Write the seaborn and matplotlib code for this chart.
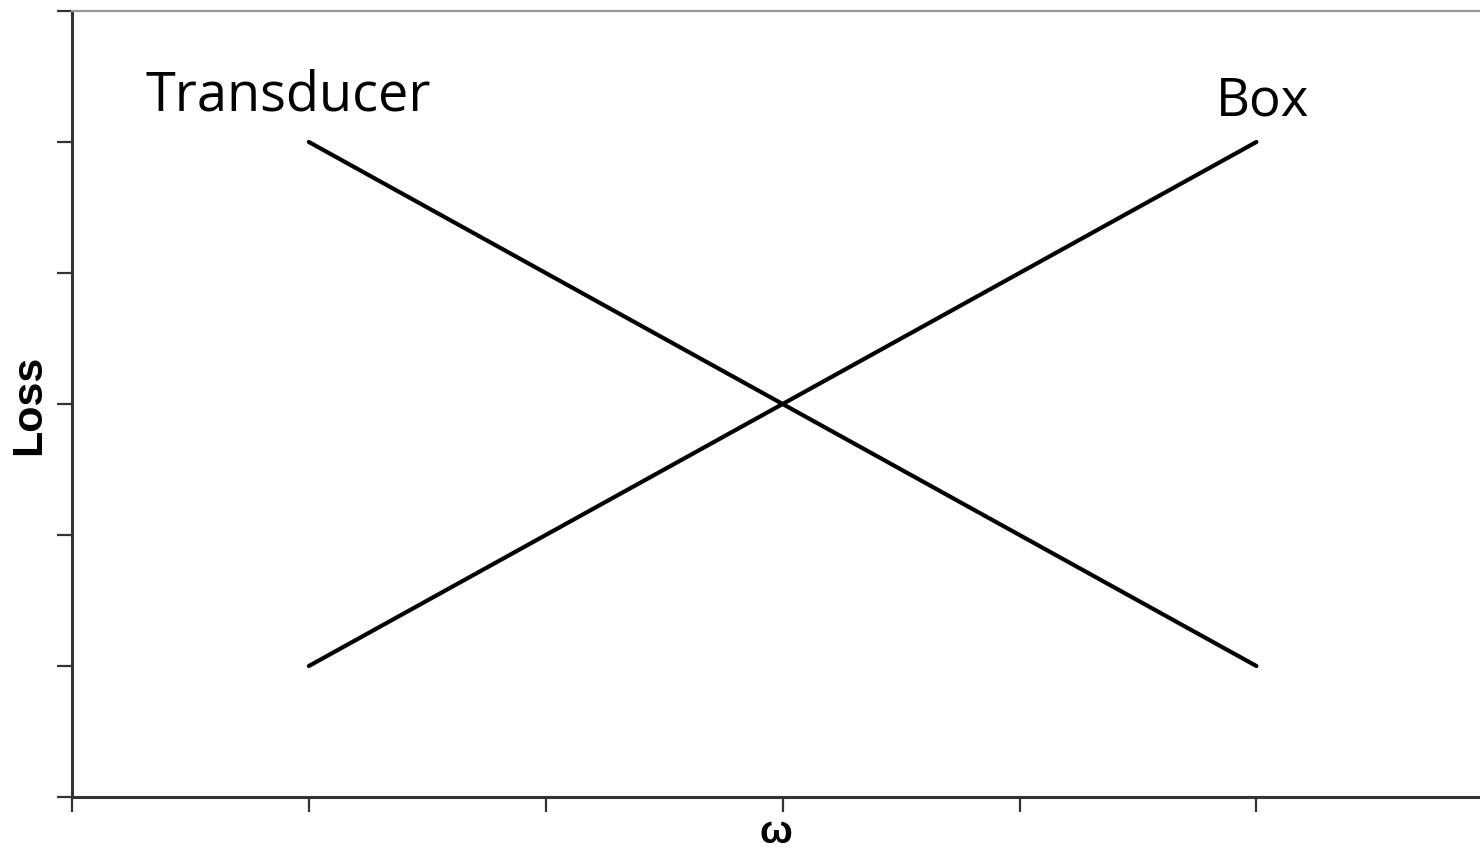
import matplotlib
matplotlib.use("Agg")
import matplotlib.pyplot as plt
import seaborn as sns
import pandas as pd

# endpoints of the two loss curves
omega = [1, 5]
transducer_loss = [5, 1]
box_loss = [1, 5]

x_ticks = [0, 1, 2, 3, 4, 5]
y_ticks = [0, 1, 2, 3, 4, 5, 6]

sns.set_style("white")
plt.rcParams["font.family"] = ["Liberation Sans", "DejaVu Sans"]
plt.rcParams["text.color"] = "black"
plt.rcParams["axes.labelcolor"] = "black"

df = pd.DataFrame({
    "omega": omega * 2,
    "loss": transducer_loss + box_loss,
    "curve": ["Transducer"] * 2 + ["Box"] * 2,
})

fig = plt.figure(figsize=(14.8, 8.53), dpi=100)
ax = fig.add_axes([72 / 1480, 55 / 853, 1 - 72 / 1480, 786 / 853])

sns.lineplot(data=df, x="omega", y="loss", units="curve", estimator=None,
             color="black", linewidth=3.0, ax=ax, legend=False)

ax.set_xlim(0, 5.944)
ax.set_ylim(0, 6)
ax.set_xticks(x_ticks)
ax.set_yticks(y_ticks)
ax.set_xticklabels([])
ax.set_yticklabels([])
ax.tick_params(axis="both", direction="out", length=11, width=1.6,
               color="#333333", bottom=True, left=True)

for side in ["left", "bottom"]:
    ax.spines[side].set_color("#333333")
    ax.spines[side].set_linewidth(2.2)
ax.spines["top"].set_color("#999999")
ax.spines["top"].set_linewidth(1.6)
ax.spines["right"].set_visible(False)

ax.set_xlabel("ω", fontsize=28, fontweight="bold", labelpad=-2)
ax.set_ylabel("Loss", fontsize=31, fontweight="bold", labelpad=2)

ax.text(0.31, 5.25, "Transducer", fontsize=39, family=["Open Sans", "DejaVu Sans"],
        ha="left", va="baseline", color="black")
ax.text(4.83, 5.21, "Box", fontsize=38, family=["Open Sans", "DejaVu Sans"],
        ha="left", va="baseline", color="black")

fig.savefig("out.png", dpi=100)
